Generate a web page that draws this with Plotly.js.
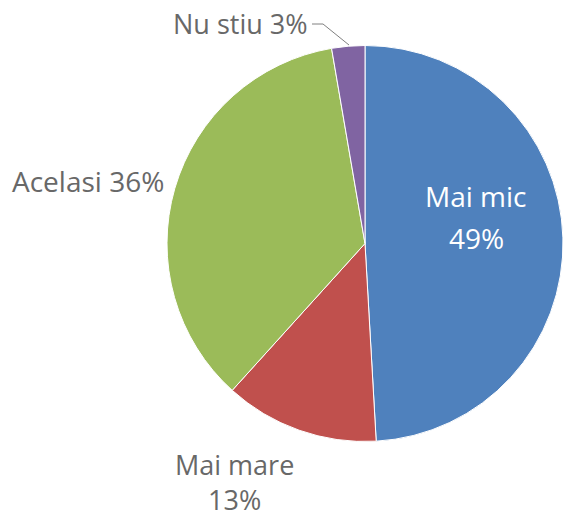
<!DOCTYPE html>
<html>
<head>
<meta charset="utf-8">
<script src="https://cdn.plot.ly/plotly-3.0.1.min.js"></script>
<style>
html,body{margin:0;padding:0;overflow:hidden;background:#fff;}
#chart{width:563px;height:519px;}
</style>
</head>
<body>
<div id="chart"></div>
<script>
const categories = ["Mai mic", "Mai mare", "Acelasi", "Nu stiu"];
const values = [49.1, 12.6, 35.6, 2.7];
const colors = ["#4F81BD", "#C0504D", "#9BBB59", "#8064A2"];

const W = 563, H = 519;
const px = x => x / W;
const py = y => 1 - y / H;
const font = "'Open Sans', sans-serif";
const gray = "#686868";
const pct = v => Math.round(v) + "%";

const data = [{
  type: "pie",
  labels: categories,
  values: values,
  sort: false,
  direction: "clockwise",
  rotation: 0,
  marker: {colors: colors, line: {color: "#ffffff", width: 1}},
  textinfo: "none",
  hoverinfo: "label+percent",
  domain: {x: [px(167), 1], y: [py(443), py(44)]},
  showlegend: false
}];

const lbl = (t, x, y, c, xanchor, size) => ({
  text: t, xref: "paper", yref: "paper", x: px(x), y: py(y),
  xanchor: xanchor || "center", yanchor: "middle", showarrow: false,
  font: {family: font, size: size || 28, color: c}
});

const layout = {
  width: W, height: H,
  margin: {l: 0, r: 0, t: 0, b: 0},
  paper_bgcolor: "#fff",
  annotations: [
    lbl(categories[0], 476, 196, "#ffffff"),
    lbl(pct(values[0]), 476, 238, "#ffffff"),
    lbl(categories[3] + " " + pct(values[3]), 310, 24, gray, "right", 27),
    lbl(categories[2] + " " + pct(values[2]), 166, 181, gray, "right"),
    lbl(categories[1] + "<br>" + pct(values[1]), 234, 482, gray, "center", 27)
  ],
  shapes: [{
    type: "path", xref: "paper", yref: "paper",
    path: `M ${px(312)} ${py(24)} L ${px(323)} ${py(24)} L ${px(349)} ${py(45)}`,
    line: {color: "#808080", width: 1}
  }]
};

Plotly.newPlot("chart", data, layout, {staticPlot: true});
</script>
</body>
</html>
